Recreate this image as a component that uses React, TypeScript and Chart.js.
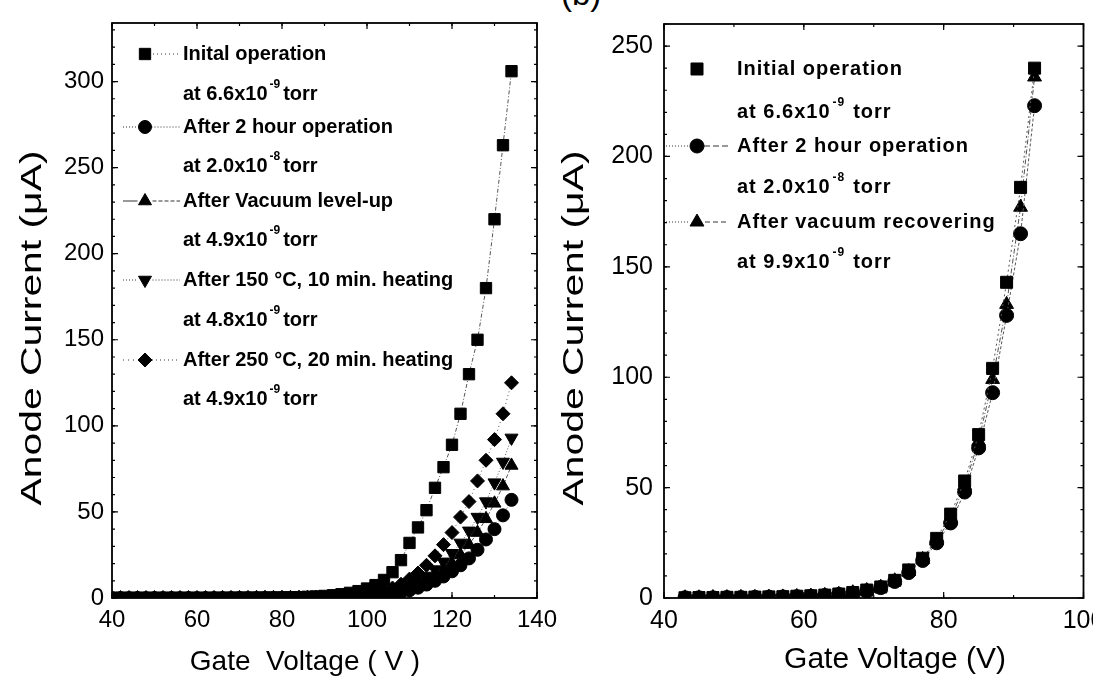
import React, { useEffect, useRef } from 'react';
import { Chart, registerables } from 'chart.js';
import { drawPoint } from 'chart.js/helpers';

Chart.register(...registerables);

// ---------------- DATA ----------------
const leftVoltage = [40, 42, 44, 46, 48, 50, 52, 54, 56, 58, 60, 62, 64, 66, 68, 70, 72, 74, 76, 78, 80, 82, 84, 86, 88, 90, 92, 94, 96, 98, 100, 102, 104, 106, 108, 110, 112, 114, 116, 118, 120, 122, 124, 126, 128, 130, 132, 134];
const leftInitial = [0.1, 0.1, 0.1, 0.1, 0.1, 0.1, 0.1, 0.1, 0.1, 0.1, 0.1, 0.1, 0.15, 0.15, 0.15, 0.2, 0.2, 0.2, 0.25, 0.25, 0.3, 0.4, 0.5, 0.7, 0.9, 1.2, 1.6, 2.2, 3.0, 4.0, 5.5, 7.5, 10.5, 15, 22, 32, 41, 51, 64, 76, 89, 107, 130, 150, 180, 220, 263, 306];
const leftAfter2h = [0, 0, 0, 0, 0, 0, 0, 0, 0, 0, 0, 0, 0, 0, 0.05, 0.05, 0.05, 0.05, 0.1, 0.1, 0.1, 0.1, 0.1, 0.15, 0.15, 0.2, 0.25, 0.3, 0.4, 0.6, 0.9, 1.2, 1.7, 2.4, 3.3, 4.5, 6.0, 7.8, 10, 12.5, 15.5, 19, 23, 28, 34, 40, 48, 57];
const leftLevelUp = [0, 0, 0, 0, 0, 0, 0, 0, 0, 0, 0, 0, 0, 0.05, 0.05, 0.05, 0.05, 0.1, 0.1, 0.1, 0.1, 0.1, 0.15, 0.2, 0.2, 0.25, 0.3, 0.4, 0.5, 0.7, 1.0, 1.4, 2.0, 2.8, 3.9, 5.3, 7.2, 9.5, 12.5, 16, 20, 25, 31, 38, 46, 55, 65, 77];
const leftHeat150 = [0, 0, 0, 0, 0, 0, 0, 0, 0, 0, 0, 0, 0.05, 0.05, 0.05, 0.05, 0.1, 0.1, 0.1, 0.1, 0.15, 0.15, 0.2, 0.25, 0.3, 0.35, 0.45, 0.55, 0.7, 1.0, 1.4, 2.0, 2.9, 4.0, 5.5, 7.4, 9.8, 12.8, 16.5, 21, 26, 32, 39, 47, 56, 67, 79, 93];
const leftHeat250 = [0, 0, 0, 0, 0, 0, 0, 0, 0, 0, 0, 0.05, 0.05, 0.05, 0.05, 0.1, 0.1, 0.1, 0.15, 0.15, 0.2, 0.2, 0.25, 0.3, 0.35, 0.45, 0.55, 0.7, 1.0, 1.4, 2.0, 2.9, 4.1, 5.8, 8, 11, 14.5, 19, 24.5, 31, 38, 47, 56, 68, 80, 92, 107, 125];

const rightVoltage = [43, 45, 47, 49, 51, 53, 55, 57, 59, 61, 63, 65, 67, 69, 71, 73, 75, 77, 79, 81, 83, 85, 87, 89, 91, 93];
const rightInitial = [0.1, 0.2, 0.2, 0.3, 0.3, 0.4, 0.5, 0.6, 0.8, 1.0, 1.3, 1.8, 2.5, 3.6, 5, 8, 12.7, 18, 27, 38, 53, 74, 104, 143, 186, 240];
const rightAfter2h = [0.1, 0.1, 0.1, 0.2, 0.2, 0.3, 0.4, 0.5, 0.6, 0.8, 1.1, 1.6, 2.2, 3.2, 4.7, 7.5, 11.5, 17, 25, 34, 48, 68, 93, 128, 165, 223];
const rightRecover = [0.1, 0.1, 0.2, 0.2, 0.3, 0.3, 0.4, 0.5, 0.7, 0.9, 1.2, 1.7, 2.4, 3.4, 4.9, 7.8, 12, 17.5, 26, 36, 51, 71, 99, 133, 177, 236];

const leftXTicks = [40, 60, 80, 100, 120, 140];
const leftYTicks = [0, 50, 100, 150, 200, 250, 300];
const rightXTicks = [40, 60, 80, 100];
const rightYTicks = [0, 50, 100, 150, 200, 250];

const leftLabels = ['Inital operation', 'After 2 hour operation', 'After Vacuum level-up', 'After 150 \u00B0C, 10 min. heating', 'After 250 \u00B0C, 20 min. heating'];
const leftPressures = [['6.6', '-9'], ['2.0', '-8'], ['4.9', '-9'], ['4.8', '-9'], ['4.9', '-9']];
const rightLabels = ['Initial operation', 'After 2 hour operation', 'After vacuum recovering'];
const rightPressures = [['6.6', '-9'], ['2.0', '-8'], ['9.9', '-9']];

const FONT = "'Liberation Sans', Arial, sans-serif";

type Marker = { style: string; rot: number; r: number; dashL: number[] | null; dashR: number[] | null };

const leftMarkers: Marker[] = [
  { style: 'rect', rot: 0, r: 8, dashL: null, dashR: [1, 3] },
  { style: 'circle', rot: 0, r: 6.5, dashL: [1, 2], dashR: [1, 2] },
  { style: 'triangle', rot: 0, r: 7.5, dashL: [], dashR: [4, 2] },
  { style: 'triangle', rot: 180, r: 7.5, dashL: [1, 2], dashR: [1, 2] },
  { style: 'rectRot', rot: 0, r: 7, dashL: [1, 4], dashR: [1, 3] },
];
const rightMarkers: Marker[] = [
  { style: 'rect', rot: 0, r: 8.5, dashL: null, dashR: null },
  { style: 'circle', rot: 0, r: 7, dashL: [1, 2], dashR: [6, 3] },
  { style: 'triangle', rot: 0, r: 8, dashL: [1, 2], dashR: [5, 3] },
];

type LegendCfg = {
  labels: string[];
  pressures: string[][];
  markers: Marker[];
  rowY: number[];
  subY: number[];
  lineX0: number;
  lineX1: number;
  markerX: number;
  textX: number;
  font: string;
  subFont: string;
  supFont: string;
  spacing: string;
  torrGap: number;
};

type TitleCfg = {
  xText: string;
  xFont: string;
  xCenter: number;
  xY: number;
  yText: string;
  yFont: string;
  yX: number;
  yCenter: number;
  yLength: number;
};

function toPoints(xs: number[], ys: number[]) {
  return xs.map((x, i) => ({ x, y: ys[i] }));
}

function framePlugin(xTicks: number[], yTicks: number[], xMinorStep: number, yMinorStep: number, legend: LegendCfg, titles: TitleCfg) {
  return {
    id: 'frameAndLegend',
    afterDraw(chart: any) {
      const { ctx, chartArea } = chart;
      const xs = chart.scales.x;
      const ys = chart.scales.y;
      const { left, right, top, bottom } = chartArea;
      ctx.save();
      ctx.strokeStyle = '#000';
      ctx.lineWidth = 1.8;
      ctx.setLineDash([]);
      ctx.strokeRect(left, top, right - left, bottom - top);
      ctx.lineWidth = 1.2;
      const drawX = (v: number, len: number) => {
        const px = xs.getPixelForValue(v);
        if (px < left - 0.5 || px > right + 0.5) return;
        ctx.beginPath();
        ctx.moveTo(px, bottom); ctx.lineTo(px, bottom - len);
        ctx.moveTo(px, top); ctx.lineTo(px, top + len);
        ctx.stroke();
      };
      const drawY = (v: number, len: number) => {
        const py = ys.getPixelForValue(v);
        if (py < top - 0.5 || py > bottom + 0.5) return;
        ctx.beginPath();
        ctx.moveTo(left, py); ctx.lineTo(left + len, py);
        ctx.moveTo(right, py); ctx.lineTo(right - len, py);
        ctx.stroke();
      };
      for (let v = xs.min; v <= xs.max; v += xMinorStep) drawX(v, 3);
      for (let v = ys.min; v <= ys.max; v += yMinorStep) drawY(v, 3);
      xTicks.forEach((v) => drawX(v, 6));
      yTicks.forEach((v) => drawY(v, 6));

      // axis titles
      ctx.fillStyle = '#000';
      ctx.textAlign = 'center';
      ctx.textBaseline = 'middle';
      ctx.font = titles.xFont;
      ctx.fillText(titles.xText, titles.xCenter, titles.xY);
      ctx.save();
      ctx.font = titles.yFont;
      const w = ctx.measureText(titles.yText).width;
      ctx.translate(titles.yX, titles.yCenter);
      ctx.rotate(-Math.PI / 2);
      ctx.scale(titles.yLength / w, 1);
      ctx.fillText(titles.yText, 0, 0);
      ctx.restore();

      // legend
      const L = legend;
      L.labels.forEach((label, i) => {
        const m = L.markers[i];
        const y = L.rowY[i];
        ctx.strokeStyle = '#333';
        ctx.lineWidth = 1;
        if (m.dashL) {
          ctx.setLineDash(m.dashL);
          ctx.beginPath();
          ctx.moveTo(L.lineX0, y);
          ctx.lineTo(L.markerX - m.r, y);
          ctx.stroke();
        }
        if (m.dashR) {
          ctx.setLineDash(m.dashR);
          ctx.beginPath();
          ctx.moveTo(L.markerX + m.r, y);
          ctx.lineTo(L.lineX1, y);
          ctx.stroke();
        }
        ctx.setLineDash([]);
        ctx.fillStyle = '#000';
        ctx.strokeStyle = '#000';
        drawPoint(ctx, { pointStyle: m.style as any, rotation: m.rot, radius: m.r, borderWidth: 1 } as any, L.markerX, y);

        ctx.fillStyle = '#000';
        ctx.textAlign = 'left';
        ctx.textBaseline = 'middle';
        (ctx as any).letterSpacing = L.spacing;
        ctx.font = L.font;
        ctx.fillText(label, L.textX, y);

        const sy = L.subY[i];
        const [mant, exp] = L.pressures[i];
        ctx.font = L.subFont;
        const base = 'at ' + mant + 'x10';
        ctx.fillText(base, L.textX, sy);
        let cx = L.textX + ctx.measureText(base).width + 2;
        ctx.font = L.supFont;
        ctx.fillText(exp, cx, sy - 9);
        cx += ctx.measureText(exp).width + L.torrGap;
        ctx.font = L.subFont;
        ctx.fillText('torr', cx, sy);
        (ctx as any).letterSpacing = '0px';
      });
      ctx.restore();
    },
  };
}

function makeDataset(label: string, data: any[], style: string, rot: number, r: number, dash: number[]) {
  return {
    label,
    data,
    showLine: true,
    pointStyle: style,
    rotation: rot,
    pointRotation: rot,
    pointRadius: r,
    pointHoverRadius: r,
    pointBackgroundColor: '#000',
    pointBorderColor: '#000',
    pointBorderWidth: 1,
    borderColor: '#555',
    borderWidth: 1,
    borderDash: dash,
    fill: false,
    tension: 0,
  };
}

function axisOptions(opts: any) {
  return {
    type: 'linear',
    min: opts.min,
    max: opts.max,
    position: opts.position,
    grid: { display: false, drawTicks: false },
    border: { display: false },
    ticks: {
      stepSize: opts.step,
      includeBounds: false,
      color: '#000',
      font: { family: FONT, size: opts.tickSize },
      padding: opts.tickPad,
      maxRotation: 0,
      autoSkip: false,
    },
    title: { display: false },
    afterFit: (s: any) => {
      if (opts.position === 'bottom') {
        s.height = opts.size;
        s.paddingLeft = 0;
        s.paddingRight = 0;
      } else {
        s.width = opts.size;
        s.paddingTop = 0;
        s.paddingBottom = 0;
      }
    },
  };
}

function Panel(props: { left: number; width: number; config: any }) {
  const ref = useRef<HTMLCanvasElement>(null);
  useEffect(() => {
    if (!ref.current) return;
    const chart = new Chart(ref.current, props.config);
    return () => chart.destroy();
  }, []);
  return (
    <canvas
      ref={ref}
      width={props.width}
      height={679}
      style={{ position: 'absolute', left: props.left, top: 0, width: props.width, height: 679 }}
    />
  );
}

const leftConfig: any = {
  type: 'scatter',
  data: {
    datasets: [
      makeDataset(leftLabels[4], toPoints(leftVoltage, leftHeat250), 'rectRot', 0, 7, [1, 3]),
      makeDataset(leftLabels[3], toPoints(leftVoltage, leftHeat150), 'triangle', 180, 7.5, [1, 2]),
      makeDataset(leftLabels[2], toPoints(leftVoltage, leftLevelUp), 'triangle', 0, 7.5, [4, 2]),
      makeDataset(leftLabels[1], toPoints(leftVoltage, leftAfter2h), 'circle', 0, 6.5, [1, 2]),
      makeDataset(leftLabels[0], toPoints(leftVoltage, leftInitial), 'rect', 0, 8, [4, 2, 1, 2]),
    ],
  },
  options: {
    animation: false,
    responsive: false,
    maintainAspectRatio: false,
    devicePixelRatio: 1,
    layout: { padding: { top: 23, right: 23, left: 0, bottom: 0 } },
    plugins: { legend: { display: false }, tooltip: { enabled: false } },
    scales: {
      x: axisOptions({ min: 40, max: 140, position: 'bottom', step: 20, tickSize: 24, tickPad: 8, size: 81 }),
      y: axisOptions({ min: 0, max: 334, position: 'left', step: 50, tickSize: 24, tickPad: 8, size: 112 }),
    },
  },
  plugins: [
    framePlugin(leftXTicks, leftYTicks, 10, 10, {
      labels: leftLabels,
      pressures: leftPressures,
      markers: leftMarkers,
      rowY: [54, 127, 201, 280, 360],
      subY: [94, 166, 240, 320, 399],
      lineX0: 123,
      lineX1: 180,
      markerX: 145,
      textX: 183,
      font: `bold 20px ${FONT}`,
      subFont: `bold 20px ${FONT}`,
      supFont: `bold 12px ${FONT}`,
      spacing: '0px',
      torrGap: 3,
    }, {
      xText: 'Gate  Voltage ( V )',
      xFont: `28px ${FONT}`,
      xCenter: 305,
      xY: 662,
      yText: 'Anode Current (\u03BCA)',
      yFont: `29px ${FONT}`,
      yX: 33,
      yCenter: 328,
      yLength: 355,
    }),
  ],
};

const rightConfig: any = {
  type: 'scatter',
  data: {
    datasets: [
      makeDataset(rightLabels[0], toPoints(rightVoltage, rightInitial), 'rect', 0, 8.5, [2, 3]),
      makeDataset(rightLabels[1], toPoints(rightVoltage, rightAfter2h), 'circle', 0, 7, [3, 2]),
      makeDataset(rightLabels[2], toPoints(rightVoltage, rightRecover), 'triangle', 0, 8, [5, 2, 1, 2]),
    ],
  },
  options: {
    animation: false,
    responsive: false,
    maintainAspectRatio: false,
    devicePixelRatio: 1,
    layout: { padding: { top: 24, right: 9, left: 0, bottom: 0 } },
    plugins: { legend: { display: false }, tooltip: { enabled: false } },
    scales: {
      x: axisOptions({ min: 40, max: 100, position: 'bottom', step: 20, tickSize: 25, tickPad: 8, size: 81 }),
      y: axisOptions({ min: 0, max: 260, position: 'left', step: 50, tickSize: 25, tickPad: 11, size: 104 }),
    },
  },
  plugins: [
    framePlugin(rightXTicks, rightYTicks, 10, 10, {
      labels: rightLabels,
      pressures: rightPressures,
      markers: rightMarkers,
      rowY: [69, 146, 222],
      subY: [112, 187, 262],
      lineX0: 106,
      lineX1: 168,
      markerX: 137,
      textX: 177,
      font: `bold 20px ${FONT}`,
      subFont: `bold 20px ${FONT}`,
      supFont: `bold 12px ${FONT}`,
      spacing: '1px',
      torrGap: 8,
    }, {
      xText: 'Gate Voltage (V)',
      xFont: `30px ${FONT}`,
      xCenter: 335,
      xY: 660,
      yText: 'Anode Current (\u03BCA)',
      yFont: `29px ${FONT}`,
      yX: 15,
      yCenter: 328,
      yLength: 355,
    }),
  ],
};

export default function App() {
  return (
    <div
      style={{
        position: 'fixed',
        left: 0,
        top: 0,
        width: 1093,
        height: 679,
        background: '#fff',
        overflow: 'hidden',
      }}
    >
      <div
        style={{
          position: 'absolute',
          left: 561,
          top: -23,
          fontFamily: FONT,
          fontSize: 33,
          lineHeight: '33px',
          color: '#000',
        }}
      >
        (b)
      </div>
      <Panel left={0} width={560} config={leftConfig} />
      <Panel left={560} width={533} config={rightConfig} />
    </div>
  );
}
